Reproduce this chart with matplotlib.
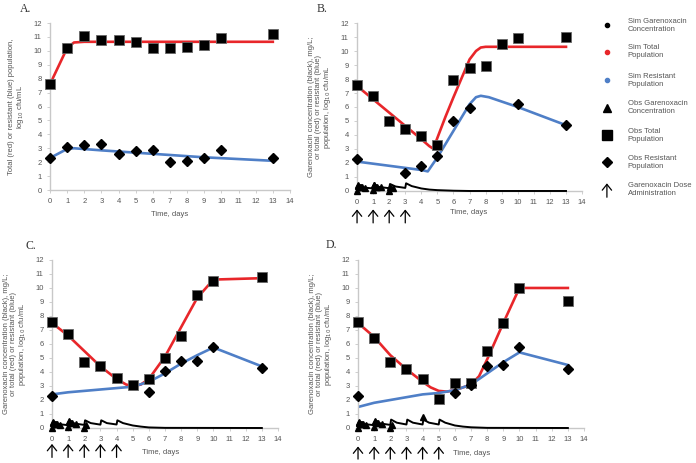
import numpy as np
import matplotlib
matplotlib.use('Agg')
import matplotlib.pyplot as plt
from matplotlib.lines import Line2D

# ---- data ----
obs_days = [0, 1, 2, 3, 4, 5, 6, 7, 8, 9, 10, 13]

# panel A (no drug)
a_obs_total = [7.6, 10.2, 11.1, 10.8, 10.8, 10.6, 10.2, 10.2, 10.3, 10.4, 10.9, 11.2]
a_obs_res = [2.3, 3.1, 3.2, 3.3, 2.6, 2.8, 2.9, 2.0, 2.05, 2.3, 2.9, 2.3]
a_sim_t = [0, 1, 1.4, 2, 13]
a_sim_total = [7.6, 10.2, 10.6, 10.65, 10.65]
a_sim_res_t = [0, 1, 1.4, 3, 6, 9, 13]
a_sim_res = [2.3, 2.95, 3.0, 2.85, 2.6, 2.35, 2.1]

# panel B (4 doses)
b_doses = [0, 1, 2, 3]
b_obs_total = [7.6, 6.8, 5.0, 4.4, 3.9, 3.3, 7.9, 8.8, 8.9, 10.5, 10.95, 11.0]
b_obs_res_t = [0, 3, 4, 5, 6, 7, 10, 13]
b_obs_res = [2.3, 1.3, 1.8, 2.5, 5.0, 5.95, 6.2, 4.7]
b_sim_t = [0, 1, 2, 3, 4, 4.5, 4.7, 4.9, 5.5, 6, 7, 7.4, 7.7, 8, 9, 13]
b_sim_total = [7.5, 6.55, 5.6, 4.65, 3.7, 3.2, 3.05, 3.5, 5.3, 6.7, 9.4, 10.0, 10.25, 10.3, 10.3, 10.3]
b_sim_res_t = [0, 2, 4, 4.4, 5, 6, 7, 7.4, 7.7, 8.2, 10, 13]
b_sim_res = [2.1, 1.8, 1.5, 1.4, 2.4, 4.3, 6.2, 6.7, 6.8, 6.7, 6.0, 4.7]
b_conc_t = [0, 0.05, 0.4, 1.0, 1.05, 1.4, 2.0, 2.05, 2.4, 3.0, 3.05, 3.4, 4.0, 4.5, 5.0, 6.0, 7.0, 13.0]
b_conc = [0, 0.4, 0.25, 0.18, 0.42, 0.28, 0.2, 0.5, 0.32, 0.22, 0.55, 0.35, 0.18, 0.1, 0.06, 0.02, 0.0, 0.0]
b_obs_conc_t = [0, 0.04, 0.08, 0.17, 0.25, 0.33, 0.5, 1.0, 1.04, 1.08, 1.17, 1.25, 1.5, 2.0, 2.08, 2.25]
b_obs_conc = [0.0, 0.45, 0.35, 0.3, 0.3, 0.25, 0.2, 0.05, 0.45, 0.4, 0.3, 0.3, 0.25, 0.0, 0.3, 0.2]

# panel C (5 doses)
c_doses = [0, 1, 2, 3, 4]
c_obs_total = [7.6, 6.7, 4.7, 4.4, 3.6, 3.1, 3.5, 5.0, 6.6, 9.5, 10.5, 10.8]
c_obs_res_t = [0, 6, 7, 8, 9, 10, 13]
c_obs_res = [2.3, 2.6, 4.1, 4.75, 4.8, 5.8, 4.3]
c_sim_t = [0, 1, 2, 3, 4, 4.6, 5, 5.5, 6, 7, 8, 9, 10, 13]
c_sim_total = [7.5, 6.6, 5.5, 4.4, 3.5, 3.1, 3.0, 3.1, 3.5, 5.1, 7.2, 9.3, 10.6, 10.7]
c_sim_res_t = [0, 1, 3, 5, 6, 7, 8, 9, 10, 13]
c_sim_res = [2.4, 2.55, 2.75, 2.95, 3.3, 3.9, 4.6, 5.2, 5.75, 4.4]
c_conc_t = [0, 0.05, 0.4, 1.0, 1.05, 1.4, 2.0, 2.05, 2.4, 3.0, 3.05, 3.4, 4.0, 4.05, 4.4, 5.0, 5.5, 6.0, 7.0, 13.0]
c_conc = [0, 0.45, 0.28, 0.2, 0.5, 0.32, 0.22, 0.55, 0.35, 0.24, 0.55, 0.35, 0.25, 0.55, 0.35, 0.18, 0.1, 0.04, 0.01, 0.0]
c_obs_conc_t = [0, 0.04, 0.08, 0.17, 0.25, 0.33, 0.5, 1.0, 1.04, 1.08, 1.17, 1.25, 1.5, 2.0, 2.08]
c_obs_conc = [0.0, 0.45, 0.35, 0.3, 0.3, 0.25, 0.2, 0.05, 0.5, 0.45, 0.35, 0.35, 0.25, 0.0, 0.2]

# panel D (6 doses)
d_doses = [0, 1, 2, 3, 4, 5]
d_obs_total = [7.6, 6.4, 4.7, 4.2, 3.5, 2.1, 3.2, 3.2, 5.5, 7.5, 10.0, 9.1]
d_obs_res_t = [0, 6, 7, 8, 9, 10, 13]
d_obs_res = [2.3, 2.5, 3.1, 4.4, 4.5, 5.8, 4.2]
d_sim_t = [0, 1, 2, 3, 4, 4.5, 5, 5.5, 6, 7, 7.5, 8, 9, 10, 13]
d_sim_total = [7.5, 6.5, 5.2, 4.2, 3.3, 2.9, 2.65, 2.6, 2.7, 3.1, 3.7, 4.9, 7.5, 10.0, 10.0]
d_sim_res_t = [0, 1, 2, 3, 4, 5, 6, 7, 8, 9, 10, 13]
d_sim_res = [1.5, 1.8, 2.0, 2.2, 2.4, 2.5, 2.7, 3.1, 3.9, 4.7, 5.4, 4.5]
d_conc_t = [0, 0.05, 0.4, 1.0, 1.05, 1.4, 2.0, 2.05, 2.4, 3.0, 3.05, 3.4, 4.0, 4.05, 4.4,
            5.0, 5.05, 5.4, 6.0, 6.5, 7.0, 8.0, 13.0]
d_conc = [0, 0.45, 0.28, 0.2, 0.5, 0.32, 0.22, 0.6, 0.38, 0.25, 0.6, 0.38, 0.25, 0.6, 0.38,
          0.25, 0.6, 0.38, 0.18, 0.1, 0.05, 0.01, 0.0]
d_obs_conc_t = [0, 0.04, 0.08, 0.17, 0.25, 0.33, 0.5, 1.0, 1.04, 1.08, 1.17, 1.25, 1.5, 2.0, 2.08, 4.0]
d_obs_conc = [0.0, 0.45, 0.35, 0.3, 0.3, 0.25, 0.2, 0.05, 0.5, 0.45, 0.35, 0.35, 0.25, 0.0, 0.2, 0.75]

ylab_a = 'Total (red) or resistant (blue) population,\nlog$_{10}$ cfu/mL'
ylab = 'Garenoxacin concentration (black), mg/L;\nor total (red) or resistant (blue)\npopulation, log$_{10}$ cfu/mL'

RED = '#e8262a'
BLUE = '#4f7fc7'
GRAY = '#555555'
ARROW = '->, head_length=0.35, head_width=0.28'

plt.rcParams['font.family'] = ['Liberation Sans', 'DejaVu Sans']

fig = plt.figure(figsize=(6.96, 4.63), dpi=100)


def setup(ax, label, ylabel, lx, ly):
    ax.set_xlim(0, 14)
    ax.set_ylim(0, 12)
    ax.set_xticks(range(15))
    ax.set_yticks(range(13))
    for s in ['top', 'right']:
        ax.spines[s].set_visible(False)
    for s in ['left', 'bottom']:
        ax.spines[s].set_color('#c8c8c8')
        ax.spines[s].set_linewidth(1.0)
    ax.tick_params(labelsize=5.5, colors=GRAY, length=2, width=0.6, pad=4)
    ax.tick_params(axis='both', color='#c8c8c8')
    ax.set_ylabel(ylabel, fontsize=5.5, color=GRAY, labelpad=5, linespacing=1.05)
    ax.patch.set_alpha(0)
    fig.text(lx, ly, label, fontsize=8.5, family='Liberation Serif', color='#333333')


def populations(ax, obs_total, obs_res_t, obs_res, sim_t, sim_total, sim_res_t, sim_res):
    ax.plot(sim_t, sim_total, color=RED, lw=1.9, zorder=2)
    ax.plot(sim_res_t, sim_res, color=BLUE, lw=1.9, zorder=2)
    ax.plot(obs_days, obs_total, 's', color='black', ms=7.8, mec='#666666', mew=0.6,
            clip_on=False, zorder=4)
    ax.plot(obs_res_t, obs_res, 'D', color='black', ms=4.6, clip_on=False, zorder=4)


def drug(ax, conc_t, conc, obs_t, obs_c, doses, ylo, yhi, xl_x, xl_y):
    ax.plot(conc_t, conc, color='black', lw=1.4, zorder=3, clip_on=False)
    ax.plot(obs_t, obs_c, '^', color='black', ms=4.5, clip_on=False, zorder=4)
    for d in doses:
        ax.annotate('', xy=(d, yhi), xytext=(d, ylo),
                    xycoords=('data', 'axes fraction'),
                    textcoords=('data', 'axes fraction'),
                    arrowprops=dict(arrowstyle=ARROW, lw=0.9, color='black',
                                    mutation_scale=12, shrinkA=0, shrinkB=0),
                    annotation_clip=False)
    ax.text(xl_x, xl_y, 'Time, days', transform=ax.get_xaxis_transform(),
            fontsize=5.5, color=GRAY, ha='left', va='center')


# A
axA = fig.add_axes([0.0718, 0.5896, 0.3448, 0.3607])
setup(axA, 'A.', ylab_a, 0.028, 0.975)
populations(axA, a_obs_total, obs_days, a_obs_res, a_sim_t, a_sim_total, a_sim_res_t, a_sim_res)
axA.set_xlabel('Time, days', fontsize=5.5, color=GRAY, labelpad=4)

# B
axB = fig.add_axes([0.513, 0.5875, 0.3233, 0.3628])
setup(axB, 'B.', ylab, 0.455, 0.975)
populations(axB, b_obs_total, b_obs_res_t, b_obs_res, b_sim_t, b_sim_total, b_sim_res_t, b_sim_res)
drug(axB, b_conc_t, b_conc, b_obs_conc_t, b_obs_conc, b_doses, -0.19, -0.11, 5.8, -0.13)

# C
axC = fig.add_axes([0.0747, 0.0756, 0.3247, 0.3629])
setup(axC, 'C.', ylab, 0.036, 0.462)
populations(axC, c_obs_total, c_obs_res_t, c_obs_res, c_sim_t, c_sim_total, c_sim_res_t, c_sim_res)
drug(axC, c_conc_t, c_conc, c_obs_conc_t, c_obs_conc, c_doses, -0.175, -0.095, 5.6, -0.143)

# D
axD = fig.add_axes([0.5144, 0.0756, 0.3247, 0.3629])
setup(axD, 'D.', ylab, 0.468, 0.464)
populations(axD, d_obs_total, d_obs_res_t, d_obs_res, d_sim_t, d_sim_total, d_sim_res_t, d_sim_res)
drug(axD, d_conc_t, d_conc, d_obs_conc_t, d_obs_conc, d_doses, -0.185, -0.11, 5.9, -0.15)

# legend drawn in figure coordinates
leg_labels = ['Sim Garenoxacin\nConcentration', 'Sim Total\nPopulation',
              'Sim Resistant\nPopulation', 'Obs Garenoxacin\nConcentration',
              'Obs Total\nPopulation', 'Obs Resistant\nPopulation',
              'Garenoxacin Dose\nAdministration']
leg_y = [0.946, 0.888, 0.827, 0.767, 0.708, 0.650, 0.590]
leg_style = [('o', 'black', 3), ('o', RED, 3), ('o', BLUE, 3), ('^', 'black', 6),
             ('s', 'black', 7), ('D', 'black', 5), (None, 'black', 0)]
for lab, y, (m, c, s) in zip(leg_labels, leg_y, leg_style):
    if m is None:
        fig.add_artist(matplotlib.patches.FancyArrowPatch(
            (0.872, y - 0.022), (0.872, y + 0.02), arrowstyle=ARROW, mutation_scale=12,
            lw=0.9, color='black', transform=fig.transFigure))
    else:
        fig.add_artist(Line2D([0.872], [y], marker=m, color=c, ms=s, ls='none',
                              transform=fig.transFigure))
    fig.text(0.902, y, lab, fontsize=5.5, color=GRAY, va='center', ha='left', linespacing=1.2)

fig.savefig('out.png', dpi=100)
